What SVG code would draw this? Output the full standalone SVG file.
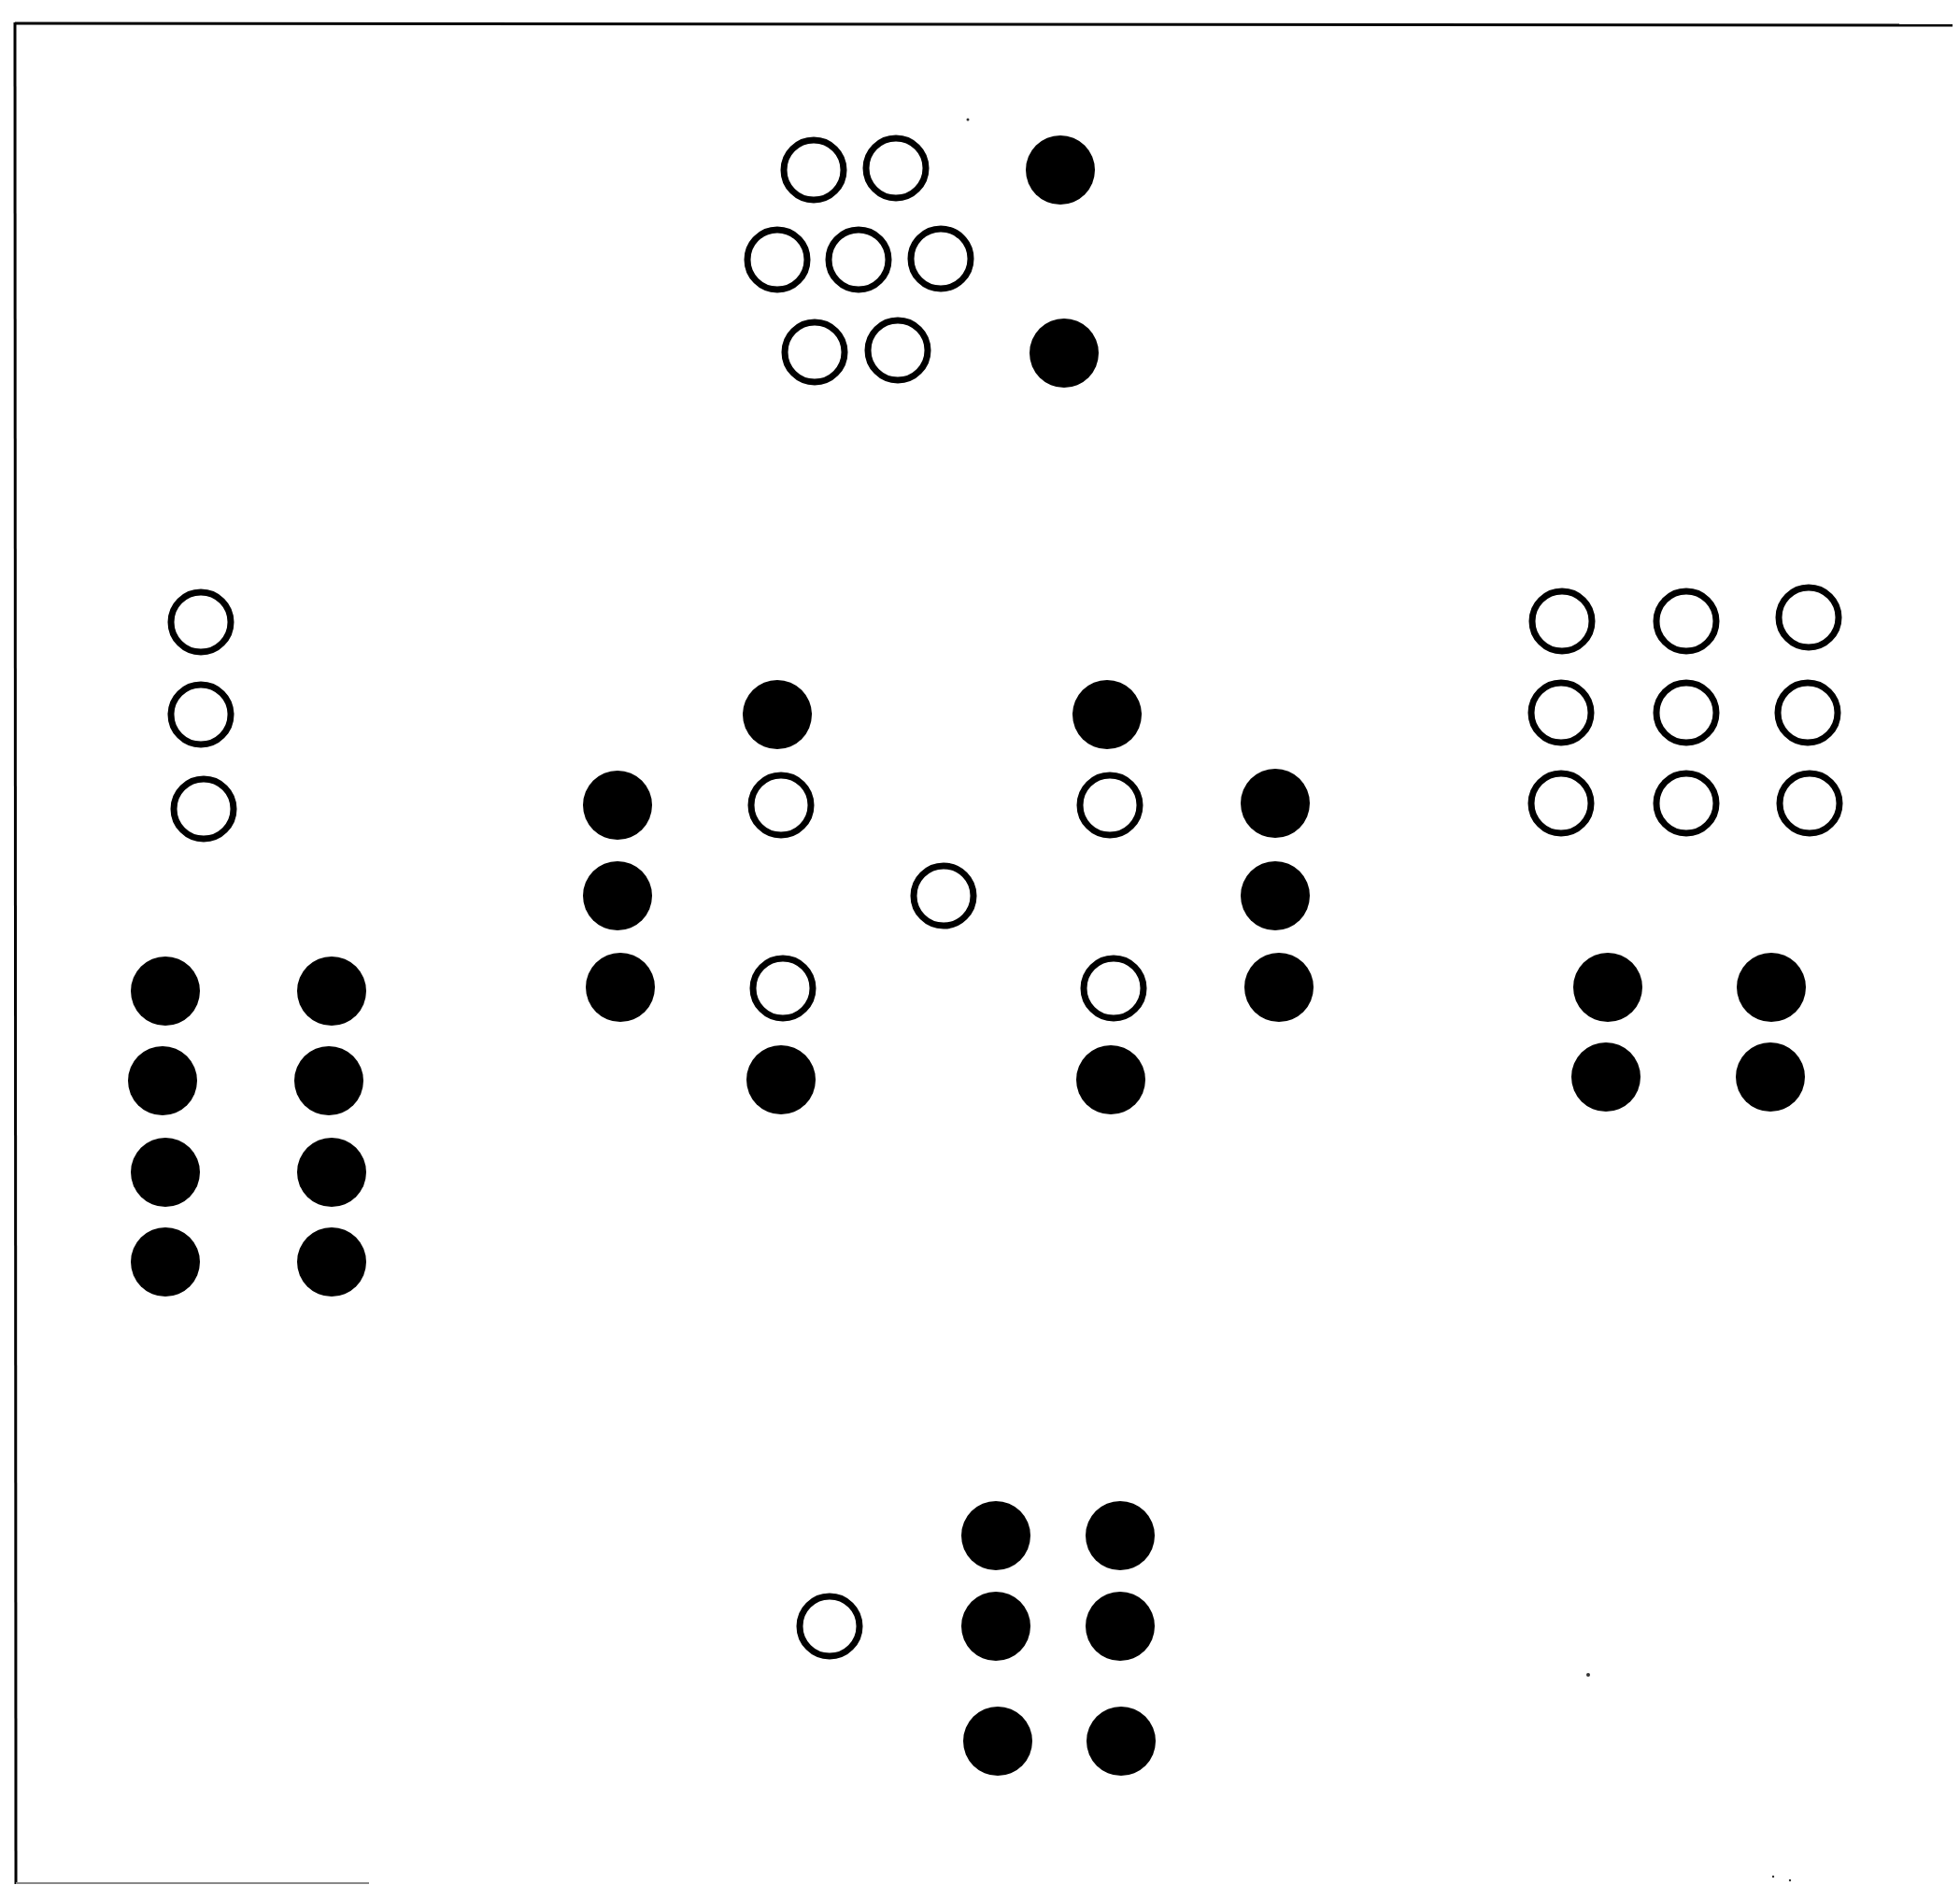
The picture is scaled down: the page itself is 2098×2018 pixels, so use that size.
<svg xmlns="http://www.w3.org/2000/svg" width="2098" height="2018" viewBox="0 0 2098 2018">
<style>
.o{fill:#fff;stroke:#000;stroke-width:7}
.f{fill:#000}
.b{stroke:#000;stroke-width:3;fill:none}
</style>
<rect width="2098" height="2018" fill="#fff"/>
<g id="frame">
<line class="b" x1="16" y1="25" x2="2090" y2="27"/>
<line class="b" x1="16" y1="24" x2="17" y2="2017"/>
<line x1="17" y1="2016" x2="395" y2="2016" stroke="#888" stroke-width="2"/>
</g>
<g id="top">
<circle class="o" cx="871" cy="182" r="32"/>
<circle class="o" cx="959" cy="180" r="32"/>
<circle class="f" cx="1135" cy="182" r="37"/>
<circle class="o" cx="832" cy="278" r="32"/>
<circle class="o" cx="919" cy="278" r="32"/>
<circle class="o" cx="1007" cy="277" r="32"/>
<circle class="o" cx="872" cy="377" r="32"/>
<circle class="o" cx="961" cy="375" r="32"/>
<circle class="f" cx="1139" cy="378" r="37"/>
</g>
<g id="left">
<circle class="o" cx="215" cy="666" r="32"/>
<circle class="o" cx="215" cy="765" r="32"/>
<circle class="o" cx="218" cy="866" r="32"/>
<circle class="f" cx="177" cy="1061" r="37"/>
<circle class="f" cx="355" cy="1061" r="37"/>
<circle class="f" cx="174" cy="1157" r="37"/>
<circle class="f" cx="352" cy="1157" r="37"/>
<circle class="f" cx="177" cy="1255" r="37"/>
<circle class="f" cx="355" cy="1255" r="37"/>
<circle class="f" cx="177" cy="1351" r="37"/>
<circle class="f" cx="355" cy="1351" r="37"/>
</g>
<g id="center-left">
<circle class="f" cx="832" cy="765" r="37"/>
<circle class="o" cx="836" cy="862" r="32"/>
<circle class="o" cx="838" cy="1058" r="32"/>
<circle class="f" cx="836" cy="1156" r="37"/>
<circle class="f" cx="661" cy="862" r="37"/>
<circle class="f" cx="661" cy="959" r="37"/>
<circle class="f" cx="664" cy="1057" r="37"/>
</g>
<g id="center">
<circle class="o" cx="1010" cy="959" r="32"/>
</g>
<g id="center-right">
<circle class="f" cx="1185" cy="765" r="37"/>
<circle class="o" cx="1188" cy="862" r="32"/>
<circle class="o" cx="1192" cy="1058" r="32"/>
<circle class="f" cx="1189" cy="1156" r="37"/>
<circle class="f" cx="1365" cy="860" r="37"/>
<circle class="f" cx="1365" cy="959" r="37"/>
<circle class="f" cx="1369" cy="1057" r="37"/>
</g>
<g id="right">
<circle class="o" cx="1672" cy="665" r="32"/>
<circle class="o" cx="1805" cy="665" r="32"/>
<circle class="o" cx="1936" cy="661" r="32"/>
<circle class="o" cx="1671" cy="763" r="32"/>
<circle class="o" cx="1805" cy="763" r="32"/>
<circle class="o" cx="1935" cy="763" r="32"/>
<circle class="o" cx="1671" cy="860" r="32"/>
<circle class="o" cx="1805" cy="860" r="32"/>
<circle class="o" cx="1937" cy="860" r="32"/>
<circle class="f" cx="1721" cy="1057" r="37"/>
<circle class="f" cx="1896" cy="1057" r="37"/>
<circle class="f" cx="1719" cy="1153" r="37"/>
<circle class="f" cx="1895" cy="1153" r="37"/>
</g>
<g id="bottom">
<circle class="f" cx="1066" cy="1644" r="37"/>
<circle class="f" cx="1199" cy="1644" r="37"/>
<circle class="f" cx="1066" cy="1741" r="37"/>
<circle class="f" cx="1199" cy="1741" r="37"/>
<circle class="f" cx="1068" cy="1864" r="37"/>
<circle class="f" cx="1200" cy="1864" r="37"/>
<circle class="o" cx="888" cy="1741" r="32"/>
</g>
<g id="specks" fill="#333">
<circle cx="1036" cy="128" r="1.5"/>
<circle cx="1700" cy="1793" r="2"/>
<circle cx="1898" cy="2009" r="1.2"/>
<circle cx="1916" cy="2013" r="1.2"/>
</g>
</svg>
